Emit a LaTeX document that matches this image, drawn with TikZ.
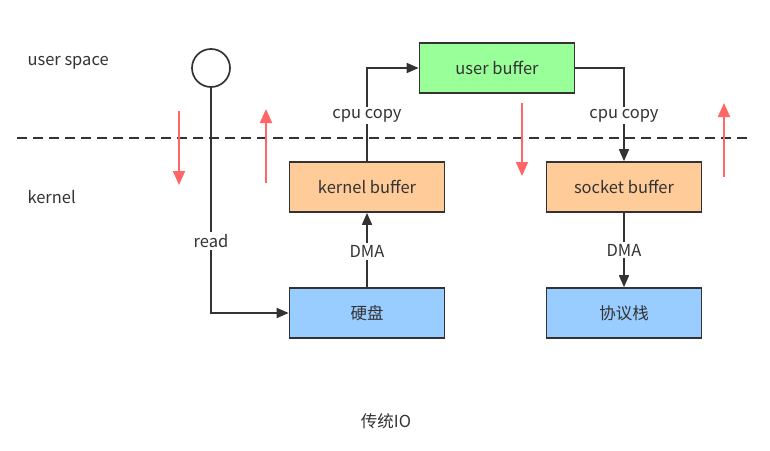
\documentclass[tikz,border=0pt]{standalone}
\usepackage{fontspec}
\setmainfont{Noto Sans CJK SC}
\usetikzlibrary{arrows.meta,positioning}
\definecolor{linegray}{HTML}{333333}
\definecolor{usergreen}{HTML}{99FF99}
\definecolor{kernorange}{HTML}{FFCC99}
\definecolor{devblue}{HTML}{99CCFF}
\definecolor{dirred}{HTML}{FF6666}

\begin{document}
\begin{tikzpicture}[x=1pt,y=-1pt,font=\fontsize{16.5}{19}\selectfont,text=linegray,
 buf/.style={draw=linegray,line width=1.7pt,minimum width=155pt,minimum height=50pt,inner sep=0pt},
 conn/.style={draw=linegray,line width=1.7pt,-{Triangle[length=12pt,width=10pt]}},
 lbl/.style={fill=white,inner sep=2pt},
 dir/.style={draw=dirred,line width=1.8pt,-{Triangle[length=14pt,width=12pt]}}]
\useasboundingbox (0,0) rectangle (770,450);
% zones
\node[anchor=west] (us) at (24,63) {user space};
\node[anchor=west] (kn) at (24,197) {kernel};
\draw[linegray,line width=1.7pt,dash pattern=on 10pt off 6pt] (17,138) -- (748,138);
% buffers
\node[buf,fill=kernorange] (kbuf) at (367,187) {kernel buffer};
\node[buf,fill=usergreen] (ubuf) at (497,68) {user buffer};
\node[buf,fill=kernorange] (sbuf) at (624,187) {socket buffer};
\node[buf,fill=devblue] (disk) at (367,313) {硬盘};
\node[buf,fill=devblue] (stack) at (624,313) {协议栈};
\node[draw=linegray,line width=1.7pt,circle,minimum size=38pt,inner sep=0pt] (app) at (211,68) {};
% connectors
\draw[conn] (app.south) |- node[lbl,pos=0.34] {read} (disk.west);
\draw[conn] (disk.north) -- node[lbl,pos=0.48] {DMA} (kbuf.south);
\draw[conn] (kbuf.north) |- node[lbl,pos=0.245] {cpu copy} (ubuf.west);
\draw[conn] (ubuf.east) -| node[lbl,pos=0.755] {cpu copy} (sbuf.north);
\draw[conn] (sbuf.south) -- node[lbl,pos=0.5] {DMA} (stack.north);
% direction marks
\coordinate (d1a) at (179,111); \coordinate (d1b) at (179,185);
\coordinate (d2a) at (266,183); \coordinate (d2b) at (266,109);
\coordinate (d3a) at (522,103); \coordinate (d3b) at (522,176);
\coordinate (d4a) at (724,177); \coordinate (d4b) at (724,103);
\draw[dir] (d1a) -- (d1b);
\draw[dir] (d2a) -- (d2b);
\draw[dir] (d3a) -- (d3b);
\draw[dir] (d4a) -- (d4b);
\node (cap) at (386,421) {传统IO};
\end{tikzpicture}
\end{document}
